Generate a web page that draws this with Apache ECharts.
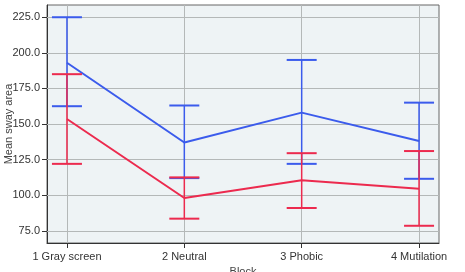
<!DOCTYPE html>
<html>
<head>
<meta charset="UTF-8">
<title>Mean sway area by block</title>
<script src="https://cdn.jsdelivr.net/npm/echarts@6/dist/echarts.min.js"></script>
<style>
  html, body { margin: 0; padding: 0; background: #fff; }
  #chart { width: 465px; height: 272px; }
</style>
</head>
<body>
<div id="chart"></div>
<script>
// data
var blocks = ['1 Gray screen', '2 Neutral', '3 Phobic', '4 Mutilation'];
var blockPos = [1, 2, 3, 4];
var yTicks = [75, 100, 125, 150, 175, 200, 225];

var blueMean = [193, 137, 158, 138];
var blueLow = [162.5, 112, 122, 111.5];
var blueHigh = [225, 163, 195, 165];

var redMean = [153.5, 98, 110.5, 104.5];
var redLow = [122, 83.5, 91, 78.5];
var redHigh = [185, 112.5, 129.5, 131];

var BLUE = '#3b5bec';
var RED = '#ec2a4e';

function zip(xs, ys) {
  return xs.map(function (x, i) { return [x, ys[i]]; });
}
function bars(xs, lo, hi) {
  return xs.map(function (x, i) { return [x, lo[i], hi[i]]; });
}

// error bar: vertical line with a cap on each end
function errorBar(color) {
  return function (params, api) {
    var x = api.value(0);
    var a = api.coord([x, api.value(1)]);
    var b = api.coord([x, api.value(2)]);
    var hw = 15;
    var st = { stroke: color, lineWidth: 2 };
    return {
      type: 'group',
      children: [
        { type: 'line', shape: { x1: a[0], y1: a[1], x2: b[0], y2: b[1] }, style: { stroke: color, lineWidth: 1.5 } },
        { type: 'line', shape: { x1: a[0] - hw, y1: a[1], x2: a[0] + hw, y2: a[1] }, style: st },
        { type: 'line', shape: { x1: b[0] - hw, y1: b[1], x2: b[0] + hw, y2: b[1] }, style: st }
      ]
    };
  };
}

var gridLines = [];
blockPos.forEach(function (p) { gridLines.push({ xAxis: p }); });
yTicks.forEach(function (v) { gridLines.push({ yAxis: v }); });

var myChart = echarts.init(document.getElementById('chart'));
var option = {
  animation: false,
  textStyle: { fontFamily: 'Liberation Sans' },
  grid: {
    left: 47, right: 26, top: 5, bottom: 29,
    outerBoundsMode: 'none',
    containLabel: false,
    show: true,
    backgroundColor: '#eef3f5',
    borderColor: '#666',
    borderWidth: 1
  },
  xAxis: {
    type: 'value',
    min: 0.83,
    max: 4.17,
    name: 'Block',
    nameLocation: 'middle',
    nameGap: 20,
    nameTextStyle: { color: '#444', fontSize: 11 },
    axisLine: { show: true, onZero: false, lineStyle: { color: '#333' } },
    axisTick: { show: true, length: 5, customValues: blockPos, lineStyle: { color: '#333' } },
    axisLabel: {
      customValues: blockPos,
      color: '#333',
      fontSize: 11,
      margin: 8,
      formatter: function (v) { return blocks[Math.round(v) - 1]; }
    },
    splitLine: { show: false }
  },
  yAxis: {
    type: 'value',
    min: 66.4,
    max: 233.6,
    name: 'Mean sway area',
    nameLocation: 'middle',
    nameGap: 33,
    nameMoveOverlap: false,
    nameTextStyle: { color: '#444', fontSize: 11 },
    axisLine: { show: true, lineStyle: { color: '#333' } },
    axisTick: { show: true, length: 5, customValues: yTicks, lineStyle: { color: '#333' } },
    axisLabel: {
      customValues: yTicks,
      color: '#333',
      fontSize: 11,
      margin: 7,
      formatter: function (v) { return v.toFixed(1); }
    },
    splitLine: { show: false }
  },
  series: [
    {
      type: 'line',
      data: [],
      silent: true,
      z: 1,
      markLine: {
        silent: true,
        z: 1,
        symbol: 'none',
        label: { show: false },
        emphasis: { disabled: true },
        lineStyle: { color: '#b4b8b8', type: 'solid', width: 1 },
        data: gridLines
      }
    },
    {
      name: 'blue',
      type: 'line',
      data: zip(blockPos, blueMean),
      symbol: 'none',
      lineStyle: { color: BLUE, width: 2 },
      z: 3
    },
    {
      type: 'custom',
      data: bars(blockPos, blueLow, blueHigh),
      renderItem: errorBar(BLUE),
      z: 3
    },
    {
      name: 'red',
      type: 'line',
      data: zip(blockPos, redMean),
      symbol: 'none',
      lineStyle: { color: RED, width: 2 },
      z: 4
    },
    {
      type: 'custom',
      data: bars(blockPos, redLow, redHigh),
      renderItem: errorBar(RED),
      z: 4
    }
  ]
};
myChart.setOption(option);
</script>
</body>
</html>
